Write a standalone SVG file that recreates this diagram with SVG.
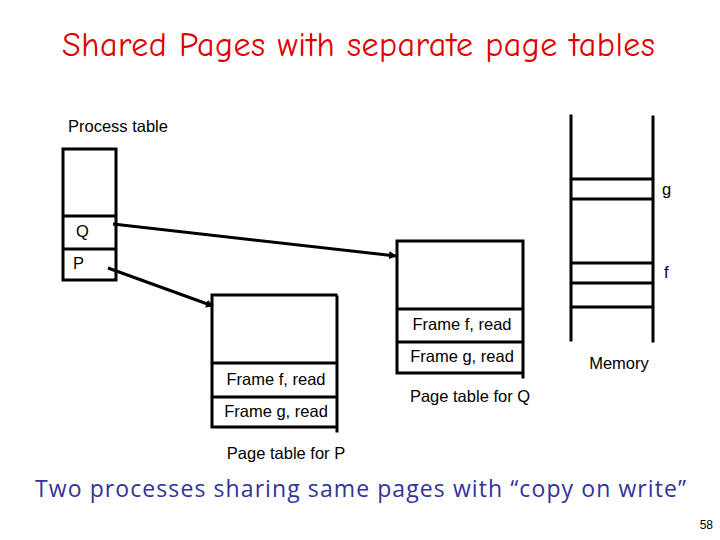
<svg xmlns="http://www.w3.org/2000/svg" width="720" height="540" viewBox="0 0 720 540">
<style>
.ln{stroke:#000;stroke-width:3;fill:none;stroke-linecap:square}
.t{font-family:"Liberation Sans",Arial,sans-serif;font-size:16.5px;fill:#000}
.title{font-family:"Comic Neue","DejaVu Sans Condensed","DejaVu Sans",sans-serif;font-size:34px;fill:#dd0000}
.sub{font-family:"Open Sans","DejaVu Sans",sans-serif;font-size:23px;fill:#333399}
</style>
<defs>
<marker id="ah" markerWidth="8" markerHeight="8" refX="7" refY="4" orient="auto" markerUnits="userSpaceOnUse">
<path d="M0,0 L8,4 L0,8 Z" fill="#000"/>
</marker>
</defs>
<rect width="720" height="540" fill="#fff"/>
<text class="title" x="62" y="56" textLength="593" lengthAdjust="spacing">Shared Pages with separate page tables</text>

<g id="process-table">
<text class="t" x="68" y="132">Process table</text>
<path class="ln" d="M63,149 H116 V280 H63 Z M63,216 H116 M63,249 H116"/>
<text class="t" x="76" y="237">Q</text>
<text class="t" x="73" y="269">P</text>
</g>

<g id="page-table-q">
<path class="ln" d="M397,241 H522 M397,241 V373 H522 M523,241 V377 M397,309 H522 M397,342 H522"/>
<text class="t" x="462" y="330" text-anchor="middle">Frame f, read</text>
<text class="t" x="462" y="362" text-anchor="middle">Frame g, read</text>
<text class="t" x="470" y="402" text-anchor="middle">Page table for Q</text>
</g>

<g id="page-table-p">
<path class="ln" d="M212,295 H336 M212,295 V427 H336 M337,297 V431 M212,363 H336 M212,397 H336"/>
<text class="t" x="276" y="385" text-anchor="middle">Frame f, read</text>
<text class="t" x="276" y="417" text-anchor="middle">Frame g, read</text>
<text class="t" x="286" y="459" text-anchor="middle">Page table for P</text>
</g>

<g id="memory">
<path class="ln" d="M571,116 V340 M653,117 V341 M572,179 H652 M574,199 H652 M574,263 H652 M574,283 H652 M572,307 H652"/>
<text class="t" x="662" y="195">g</text>
<text class="t" x="664" y="278">f</text>
<text class="t" x="619" y="369" text-anchor="middle">Memory</text>
</g>

<g id="connectors">
<line x1="113" y1="224" x2="396" y2="256" stroke="#000" stroke-width="3" marker-end="url(#ah)"/>
<line x1="108" y1="268" x2="213" y2="306" stroke="#000" stroke-width="3" marker-end="url(#ah)"/>
</g>

<text class="sub" x="35" y="497" textLength="651" lengthAdjust="spacing">Two processes sharing same pages with “copy on write”</text>
<text x="713" y="529" text-anchor="end" font-family="Liberation Sans Narrow,Liberation Sans,sans-serif" font-size="12" fill="#000">58</text>
</svg>
